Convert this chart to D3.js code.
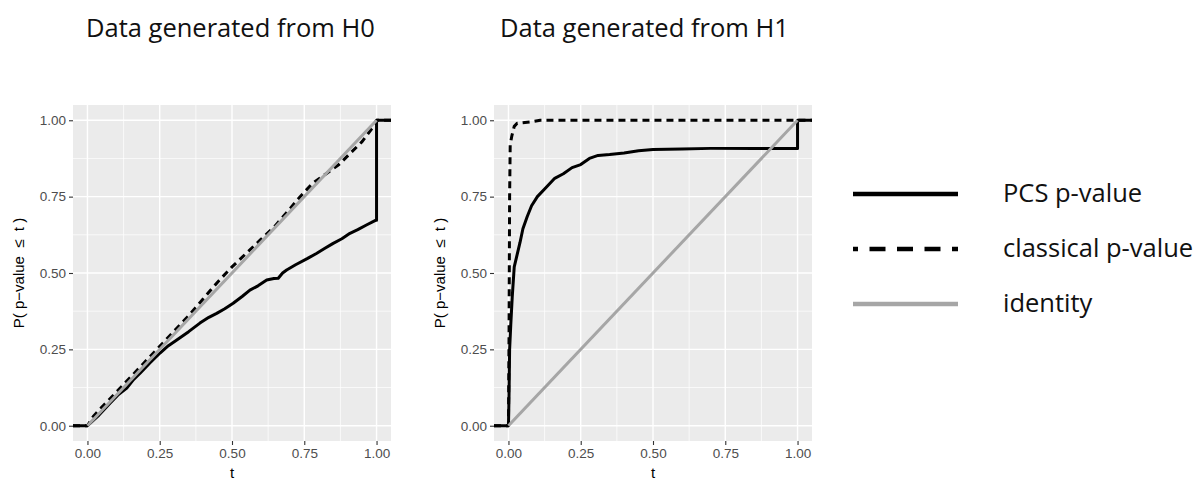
<!DOCTYPE html>
<html>
<head>
<meta charset="utf-8">
<script src="https://cdn.jsdelivr.net/npm/d3@7"></script>
<style>
  html, body { margin: 0; padding: 0; background: #ffffff; }
  svg { display: block; }
</style>
</head>
<body>
<svg id="chart" width="1201" height="480"></svg>
<script>
// Panel titles
const panelTitles = ["Data generated from H0", "Data generated from H1"];

// Axis ticks
const majorTicks = [0, 0.25, 0.5, 0.75, 1];
const minorTicks = [0.125, 0.375, 0.625, 0.875];
const tickLabels = ["0.00", "0.25", "0.50", "0.75", "1.00"];

// Legend
const seriesNames = ["PCS p-value", "classical p-value", "identity"];

// Empirical CDFs, [t, P(p-value <= t)] — data generated from H0
const h0Pcs = [
  [-0.05, 0], [0, 0], [0.04, 0.035], [0.078, 0.074], [0.105, 0.1], [0.136, 0.123],
  [0.16, 0.152], [0.182, 0.172], [0.215, 0.205], [0.251, 0.238], [0.28, 0.262],
  [0.309, 0.281], [0.35, 0.308], [0.389, 0.336], [0.42, 0.355], [0.447, 0.368],
  [0.475, 0.383], [0.504, 0.401], [0.535, 0.423], [0.562, 0.444], [0.59, 0.458],
  [0.62, 0.477], [0.645, 0.482], [0.66, 0.483], [0.675, 0.5], [0.689, 0.51],
  [0.72, 0.527], [0.76, 0.547], [0.792, 0.564], [0.82, 0.58], [0.85, 0.597],
  [0.88, 0.612], [0.908, 0.63], [0.935, 0.642], [0.965, 0.657], [0.998, 0.673],
  [1, 0.673], [1, 1], [1.05, 1]
];
const h0Classical = [
  [-0.05, 0], [0, 0], [0.02, 0.03], [0.044, 0.055], [0.1, 0.11], [0.15, 0.16],
  [0.2, 0.21], [0.25, 0.26], [0.3, 0.31], [0.35, 0.36], [0.4, 0.415],
  [0.45, 0.47], [0.5, 0.52], [0.55, 0.565], [0.6, 0.61], [0.65, 0.655],
  [0.7, 0.71], [0.735, 0.749], [0.78, 0.795], [0.827, 0.826], [0.87, 0.855],
  [0.908, 0.891], [0.95, 0.93], [0.988, 0.978], [1, 1], [1.05, 1]
];
const h0Identity = [[0, 0], [1, 1]];

// Empirical CDFs — data generated from H1
const h1Pcs = [
  [-0.05, 0], [0, 0], [0.002, 0.1], [0.004, 0.25], [0.008, 0.33], [0.013, 0.42],
  [0.02, 0.52], [0.03, 0.56], [0.04, 0.6], [0.05, 0.645], [0.065, 0.685],
  [0.08, 0.72], [0.1, 0.75], [0.13, 0.78], [0.16, 0.81], [0.19, 0.825],
  [0.22, 0.845], [0.25, 0.855], [0.28, 0.875], [0.31, 0.885], [0.35, 0.888],
  [0.4, 0.893], [0.45, 0.9], [0.5, 0.904], [0.6, 0.906], [0.7, 0.908],
  [0.85, 0.908], [1, 0.908], [1, 1], [1.05, 1]
];
const h1Classical = [
  [-0.05, 0], [0, 0], [0.002, 0.3], [0.004, 0.75], [0.006, 0.92], [0.012, 0.95],
  [0.02, 0.98], [0.03, 0.99], [0.08, 0.995], [0.11, 1], [1.05, 1]
];
const h1Identity = [[0, 0], [1, 1]];

const panelData = [
  { pcs: h0Pcs, classical: h0Classical, identity: h0Identity },
  { pcs: h1Pcs, classical: h1Classical, identity: h1Identity }
];

const svg = d3.select("#chart");
const panelLefts = [73, 494];
const panelWidth = 318;
const panelTop = 105, panelBottom = 441;
const titleX = [86, 500];
const bigFont = "'Open Sans', 'Noto Sans', sans-serif";
const smallFont = "'Liberation Sans', Arial, sans-serif";

const y = d3.scaleLinear().domain([-0.05, 1.05]).range([panelBottom, panelTop]);

const styles = {
  pcs: { stroke: "#000000", width: 3, dash: null },
  classical: { stroke: "#000000", width: 3, dash: "7 5" },
  identity: { stroke: "#a6a6a6", width: 3, dash: null }
};

panelData.forEach((d, i) => {
  const x = d3.scaleLinear().domain([-0.05, 1.05])
    .range([panelLefts[i], panelLefts[i] + panelWidth]);
  const g = svg.append("g");

  // title
  svg.append("text")
    .attr("x", titleX[i]).attr("y", 37)
    .attr("font-family", bigFont)
    .attr("font-size", 25.5)
    .attr("fill", "#111")
    .text(panelTitles[i]);

  // panel background
  g.append("rect")
    .attr("x", x.range()[0]).attr("y", panelTop)
    .attr("width", panelWidth).attr("height", panelBottom - panelTop)
    .attr("fill", "#ebebeb");

  // minor grid
  minorTicks.forEach(v => {
    g.append("line").attr("x1", x(v)).attr("x2", x(v))
      .attr("y1", panelTop).attr("y2", panelBottom)
      .attr("stroke", "#fff").attr("stroke-width", 0.7);
    g.append("line").attr("y1", y(v)).attr("y2", y(v))
      .attr("x1", x.range()[0]).attr("x2", x.range()[1])
      .attr("stroke", "#fff").attr("stroke-width", 0.7);
  });
  // major grid
  majorTicks.forEach(v => {
    g.append("line").attr("x1", x(v)).attr("x2", x(v))
      .attr("y1", panelTop).attr("y2", panelBottom)
      .attr("stroke", "#fff").attr("stroke-width", 1.4);
    g.append("line").attr("y1", y(v)).attr("y2", y(v))
      .attr("x1", x.range()[0]).attr("x2", x.range()[1])
      .attr("stroke", "#fff").attr("stroke-width", 1.4);
  });

  // axes
  const xAxis = d3.axisBottom(x).tickValues(majorTicks)
    .tickFormat((v, k) => tickLabels[k]).tickSize(4).tickPadding(3);
  const yAxis = d3.axisLeft(y).tickValues(majorTicks)
    .tickFormat((v, k) => tickLabels[k]).tickSize(4).tickPadding(3);

  const gx = g.append("g").attr("transform", `translate(0,${panelBottom})`).call(xAxis);
  const gy = g.append("g").attr("transform", `translate(${x.range()[0]},0)`).call(yAxis);
  [gx, gy].forEach(ax => {
    ax.select(".domain").remove();
    ax.selectAll(".tick line").attr("stroke", "#333").attr("stroke-width", 1.1);
    ax.selectAll(".tick text")
      .attr("fill", "#4d4d4d")
      .attr("font-family", smallFont)
      .attr("font-size", 13.5);
  });

  // axis titles
  g.append("text")
    .attr("x", x(0.5)).attr("y", 478)
    .attr("text-anchor", "middle")
    .attr("font-family", smallFont)
    .attr("font-size", 15).attr("fill", "#000")
    .text("t");
  g.append("text")
    .attr("transform", `translate(${x.range()[0] - 49},${(panelTop + panelBottom) / 2}) rotate(-90)`)
    .attr("text-anchor", "middle")
    .attr("font-family", smallFont)
    .attr("font-size", 15).attr("fill", "#000")
    .style("white-space", "pre")
    .text("P( p\u2212value  \u2264  t )");

  // lines
  const line = d3.line().x(p => x(p[0])).y(p => y(p[1]));
  ["pcs", "classical", "identity"].forEach(key => {
    const s = styles[key];
    g.append("path")
      .datum(d[key])
      .attr("d", line)
      .attr("fill", "none")
      .attr("stroke", s.stroke)
      .attr("stroke-width", s.width)
      .attr("stroke-dasharray", s.dash)
      .attr("stroke-linejoin", "round");
  });
});

// legend
const legendRows = [194, 249, 304];
const legendStyles = [
  { stroke: "#000", width: 4.5, dash: null, offset: 0 },
  { stroke: "#000", width: 4.5, dash: "16 11.5", offset: 11 },
  { stroke: "#a6a6a6", width: 4.5, dash: null, offset: 0 }
];
const lg = svg.append("g");
seriesNames.forEach((name, k) => {
  const s = legendStyles[k];
  lg.append("line")
    .attr("x1", 853).attr("x2", 958)
    .attr("y1", legendRows[k]).attr("y2", legendRows[k])
    .attr("stroke", s.stroke).attr("stroke-width", s.width)
    .attr("stroke-dasharray", s.dash)
    .attr("stroke-dashoffset", s.offset);
  lg.append("text")
    .attr("x", 1003).attr("y", legendRows[k])
    .attr("dy", "0.3em")
    .attr("font-family", bigFont)
    .attr("font-size", 25.5)
    .attr("fill", "#111")
    .text(name);
});
</script>
</body>
</html>
